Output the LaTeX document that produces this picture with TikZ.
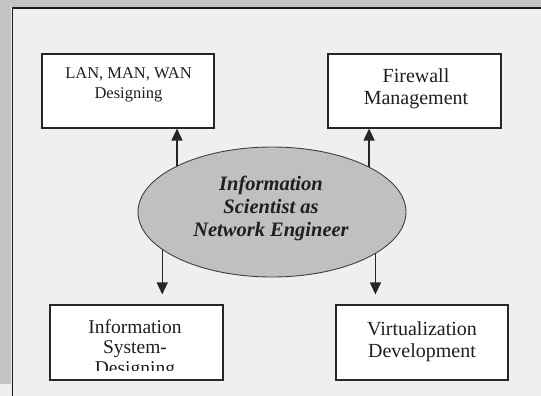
\documentclass[tikz,border=0pt]{standalone}
\usepackage{fontspec}
\setmainfont{Liberation Serif}
\usetikzlibrary{arrows.meta,shapes.geometric}
\definecolor{bgc}{HTML}{EFEFEF}
\definecolor{bandc}{HTML}{C4C4C4}
\definecolor{ellc}{HTML}{C0C0C0}
\begin{document}
\begin{tikzpicture}[x=1pt,y=-1pt,
  boxnode/.style={draw=black!85, line width=1.1pt, fill=white, inner sep=0pt},
  txt/.style={anchor=north, inner sep=0pt, align=center, text=black!88},
  arr/.style={line width=1.3pt, black!85, -{Triangle[length=12pt,width=11pt]}}]
\useasboundingbox (0,0) rectangle (541,396);
% background and frame
\fill[bgc] (0,0) rectangle (541,396);
\fill[bandc] (0,0) rectangle (541,7);
\fill[bandc] (0,0) rectangle (11,384);
\draw[line width=1.6pt, black!90] (541,8) -- (12.5,8) -- (12.5,396);
% boxes
\node[boxnode, minimum width=172pt, minimum height=74pt] (lan) at (128,91) {};
\node[boxnode, minimum width=173pt, minimum height=74pt] (fw) at (414.5,91) {};
\node[boxnode, minimum width=173pt, minimum height=75pt] (isd) at (136.5,342.5) {};
\node[boxnode, minimum width=172pt, minimum height=75pt] (virt) at (422,342.5) {};
% ellipse
\node[draw=black!75, line width=0.9pt, fill=ellc, ellipse, minimum width=268pt, minimum height=130pt, inner sep=0pt] (ell) at (272,212) {};
% texts
\node[txt, font=\fontsize{16.5}{20}\selectfont] (lant) at (128.5,67) {LAN, MAN, WAN\\Designing};
\node[txt, font=\fontsize{20}{22}\selectfont] (fwt) at (416,68.5) {Firewall\\Management};
\node[txt, font=\fontsize{20.5}{23}\selectfont\bfseries\itshape] (ellt) at (271,175.5) {Information\\Scientist as\\Network Engineer};
\begin{scope}
\clip (isd.north west) rectangle ([yshift=10pt]isd.south east);
\node[txt, font=\fontsize{19.5}{20.5}\selectfont] (isdt) at (135,319.5) {Information\\System-\\Designing};
\end{scope}
\node[txt, font=\fontsize{20}{22.5}\selectfont] (virtt) at (422,321) {Virtualization\\Development};
% arrows
\draw[arr] (ell.154.7) -- (ell.154.7 |- lan.south);
\draw[arr] (ell.25.7) -- (ell.25.7 |- fw.south);
\draw[arr, shorten >=10pt] (ell.199.6) -- (ell.199.6 |- isd.north);
\draw[arr, shorten >=10pt] (ell.338) -- (ell.338 |- virt.north);
\end{tikzpicture}
\end{document}
